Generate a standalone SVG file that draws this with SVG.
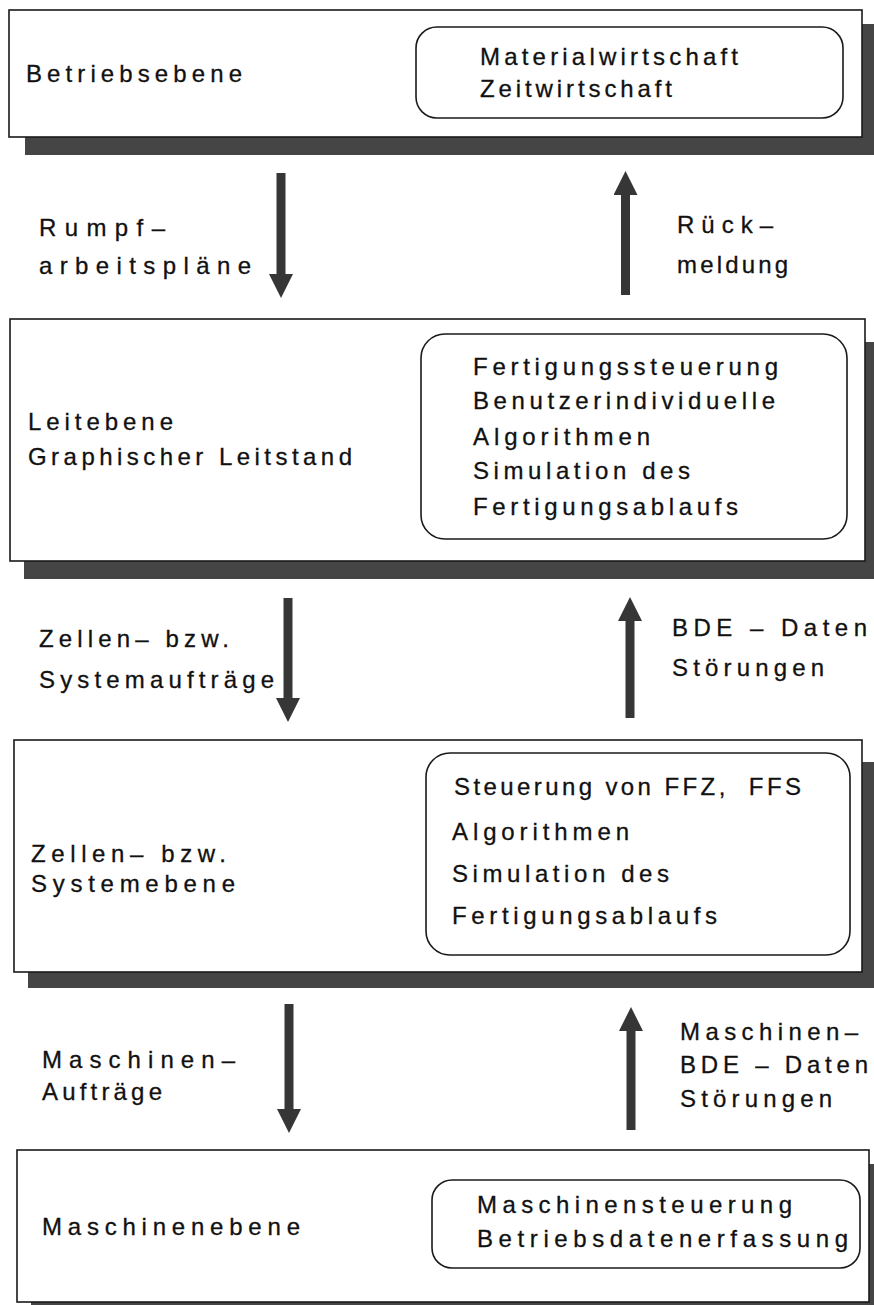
<svg xmlns="http://www.w3.org/2000/svg" width="874" height="1305" viewBox="0 0 874 1305">
<style>
.bg{fill:#ffffff}
.shadow{fill:#454545}
.box{fill:#ffffff;stroke:#1a1a1a;stroke-width:1.6}
.inner{fill:#ffffff;stroke:#1a1a1a;stroke-width:1.6}
text{font-family:"Liberation Sans",Arial,Helvetica,sans-serif;font-size:24px;fill:#111111;stroke:#111111;stroke-width:0.3;letter-spacing:5px}
.arrow{stroke:#363636;stroke-width:9;fill:none}
</style>
<defs>
<marker id="head" viewBox="0 0 24 24" refX="0" refY="12" markerWidth="24" markerHeight="24" markerUnits="userSpaceOnUse" orient="auto">
<path d="M0,0 L24,12 L0,24 Z" fill="#363636"/>
</marker>
</defs>
<rect class="bg" x="0" y="0" width="874" height="1305"/>

<g id="betriebsebene">
<rect class="shadow" x="25" y="24" width="849" height="131"/>
<rect class="box" x="9" y="10" width="853" height="127"/>
<text x="26" y="82" textLength="221" lengthAdjust="spacing">Betriebsebene</text>
<g id="betriebsebene-funktionen">
<rect class="inner" x="416" y="27" width="427" height="91" rx="21"/>
<text x="480" y="65" textLength="263" lengthAdjust="spacing">Materialwirtschaft</text>
<text x="480" y="97" textLength="197" lengthAdjust="spacing">Zeitwirtschaft</text>
</g>
</g>

<g id="leitebene">
<rect class="shadow" x="24" y="342" width="850" height="237"/>
<rect class="box" x="10" y="319" width="855" height="242"/>
<text x="28" y="430" textLength="150" lengthAdjust="spacing">Leitebene</text>
<text x="28" y="465" textLength="329" lengthAdjust="spacing">Graphischer Leitstand</text>
<g id="leitebene-funktionen">
<rect class="inner" x="421" y="334" width="426" height="205" rx="24"/>
<text x="473" y="375" textLength="310" lengthAdjust="spacing">Fertigungssteuerung</text>
<text x="473" y="409" textLength="307" lengthAdjust="spacing">Benutzerindividuelle</text>
<text x="473" y="445" textLength="182" lengthAdjust="spacing">Algorithmen</text>
<text x="473" y="479" textLength="222" lengthAdjust="spacing">Simulation des</text>
<text x="473" y="515" textLength="270" lengthAdjust="spacing">Fertigungsablaufs</text>
</g>
</g>

<g id="systemebene">
<rect class="shadow" x="28" y="762" width="846" height="226"/>
<rect class="box" x="14" y="740" width="848" height="232"/>
<text x="31" y="862" textLength="200" lengthAdjust="spacing">Zellen– bzw.</text>
<text x="31" y="892" textLength="209" lengthAdjust="spacing">Systemebene</text>
<g id="systemebene-funktionen">
<rect class="inner" x="426" y="753" width="424" height="202" rx="24"/>
<text x="454" y="795" textLength="352" lengthAdjust="spacing">Steuerung von FFZ,&#160; FFS</text>
<text x="452" y="840" textLength="182" lengthAdjust="spacing">Algorithmen</text>
<text x="452" y="882" textLength="222" lengthAdjust="spacing">Simulation des</text>
<text x="452" y="924" textLength="270" lengthAdjust="spacing">Fertigungsablaufs</text>
</g>
</g>

<g id="maschinenebene">
<rect class="shadow" x="31" y="1164" width="843" height="141"/>
<rect class="box" x="17" y="1150" width="852" height="152"/>
<text x="42" y="1235" textLength="263" lengthAdjust="spacing">Maschinenebene</text>
<g id="maschinenebene-funktionen">
<rect class="inner" x="432" y="1180" width="428" height="88" rx="20"/>
<text x="477" y="1213" textLength="320" lengthAdjust="spacing">Maschinensteuerung</text>
<text x="477" y="1247" textLength="376" lengthAdjust="spacing">Betriebsdatenerfassung</text>
</g>
</g>

<g id="connectors">
<line class="arrow" x1="281" y1="173" x2="281" y2="274" marker-end="url(#head)"/>
<line class="arrow" x1="625.5" y1="295" x2="625.5" y2="195" marker-end="url(#head)"/>
<line class="arrow" x1="288" y1="598" x2="288" y2="698" marker-end="url(#head)"/>
<line class="arrow" x1="630" y1="718" x2="630" y2="621" marker-end="url(#head)"/>
<line class="arrow" x1="289" y1="1004" x2="289" y2="1109" marker-end="url(#head)"/>
<line class="arrow" x1="631" y1="1130" x2="631" y2="1031" marker-end="url(#head)"/>
</g>

<g id="connector-labels">
<text x="39" y="236" textLength="131" lengthAdjust="spacing">Rumpf–</text>
<text x="39" y="274" textLength="217" lengthAdjust="spacing">arbeitspläne</text>
<text x="677" y="233" textLength="101" lengthAdjust="spacing">Rück–</text>
<text x="677" y="273" textLength="116" lengthAdjust="spacing">meldung</text>
<text x="39" y="647" textLength="195" lengthAdjust="spacing">Zellen– bzw.</text>
<text x="39" y="688" textLength="240" lengthAdjust="spacing">Systemaufträge</text>
<text x="672" y="636" textLength="200" lengthAdjust="spacing">BDE – Daten</text>
<text x="672" y="676" textLength="157" lengthAdjust="spacing">Störungen</text>
<text x="42" y="1068" textLength="198" lengthAdjust="spacing">Maschinen–</text>
<text x="42" y="1100" textLength="125" lengthAdjust="spacing">Aufträge</text>
<text x="680" y="1040" textLength="183" lengthAdjust="spacing">Maschinen–</text>
<text x="680" y="1073" textLength="193" lengthAdjust="spacing">BDE – Daten</text>
<text x="680" y="1107" textLength="157" lengthAdjust="spacing">Störungen</text>
</g>
</svg>
